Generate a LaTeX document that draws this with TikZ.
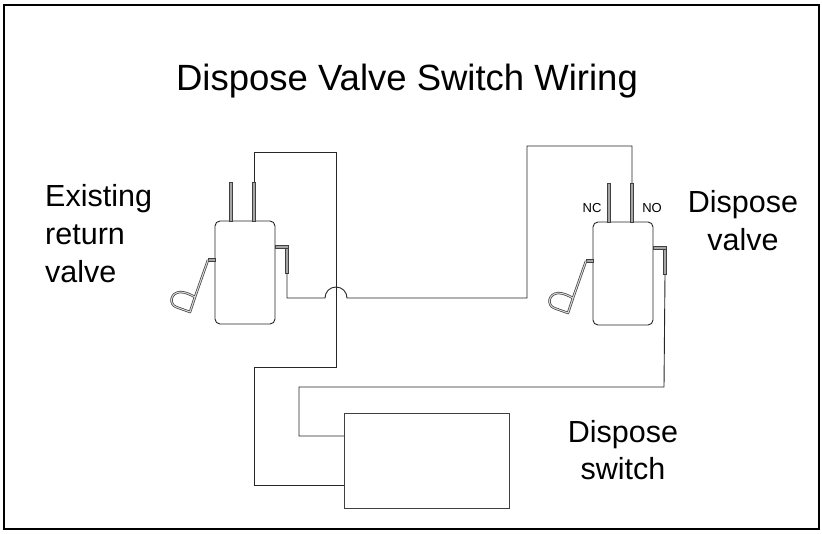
\documentclass[tikz,border=0pt]{standalone}
\usepackage{fontspec}
\setmainfont{Liberation Sans}
\begin{document}
\begin{tikzpicture}[x=1pt,y=-1pt,
  wire/.style={draw=black!85,line width=0.9pt},
  bodybox/.style={draw=black!85,line width=0.9pt,rounded corners=5pt},
  term/.style={draw=black!75,fill=black!35,line width=0.5pt},
  lever/.style={draw=black!75,double=black!15,double distance=1pt,line width=0.7pt,line join=round},
  bigtext/.style={font=\fontsize{30.5}{36}\selectfont,inner sep=0pt},
  smalltext/.style={font=\fontsize{13}{15}\selectfont,inner sep=0pt},
  switchunit/.pic={
    \draw[bodybox] (0,0) rectangle (60,103);
    \draw[term] (14.5,-39) rectangle (17.5,0);
    \draw[term] (37.5,-39) rectangle (40.5,0);
    \coordinate (-nc) at (16,-39);
    \coordinate (-no) at (39,-39);
    \draw[term] (60,24.5) rectangle (73.5,27.5);
    \draw[term] (70.5,27.5) rectangle (73.5,52);
    \coordinate (-out) at (72,52);
    \draw[term] (-7,37.5) rectangle (0,40.5);
    \draw[lever] (-7,39) -- (-20,76) -- (-25,91) -- (-39,86)
      .. controls (-46,83) and (-45,72) .. (-35,71)
      .. controls (-29,71) and (-24,74) .. (-20,76);
  }]
\useasboundingbox (0,0) rectangle (822,533);
\draw[line width=2pt] (4,5) rectangle (819,529);

\node[font=\fontsize{36.5}{40}\selectfont,inner sep=0pt,anchor=base] (title) at (407,90) {Dispose Valve Switch Wiring};

\pic (L) at (215,221) {switchunit};
\pic (R) at (593,222) {switchunit};

\node[smalltext,anchor=base] (nc) at (592,212) {NC};
\node[smalltext,anchor=base] (no) at (652,212) {NO};

\node[bigtext,anchor=base west] (ex1) at (45,206) {Existing};
\node[bigtext,anchor=base west] (ex2) at (45,244) {return};
\node[bigtext,anchor=base west] (ex3) at (45,282) {valve};

\node[bigtext,anchor=base] (dv1) at (743,212) {Dispose};
\node[bigtext,anchor=base] (dv2) at (743,250) {valve};

\node[bigtext,anchor=base] (ds1) at (623,442) {Dispose};
\node[bigtext,anchor=base] (ds2) at (623,479) {switch};

\node[draw=black!75,line width=1pt,minimum width=165pt,minimum height=95pt,inner sep=0pt] (sw) at (426.5,460.5) {};

\coordinate (a1) at (254,152);
\coordinate (a2) at (336,152);
\coordinate (a3) at (336,367);
\coordinate (a4) at (254,367);
\coordinate (a5) at (254,485);
\coordinate (a6) at (344,485);
\draw[wire] (L-no) -- (a1) -- (a2) -- (a3) -- (a4) -- (a5) -- (a6);

\coordinate (b1) at (664,387);
\coordinate (b2) at (299,387);
\coordinate (b3) at (299,436);
\coordinate (b4) at (344,436);
\draw[wire] (R-out) -- (b1) -- (b2) -- (b3) -- (b4);

\coordinate (c1) at (287,298);
\coordinate (c2) at (325,298);
\coordinate (c3) at (527,298);
\coordinate (c4) at (527,146);
\coordinate (c5) at (632,146);
\draw[wire] (L-out) -- (c1) -- (c2) arc[start angle=180,end angle=0,radius=11pt] -- (c3) -- (c4) -- (c5) -- (R-no);
\end{tikzpicture}
\end{document}
